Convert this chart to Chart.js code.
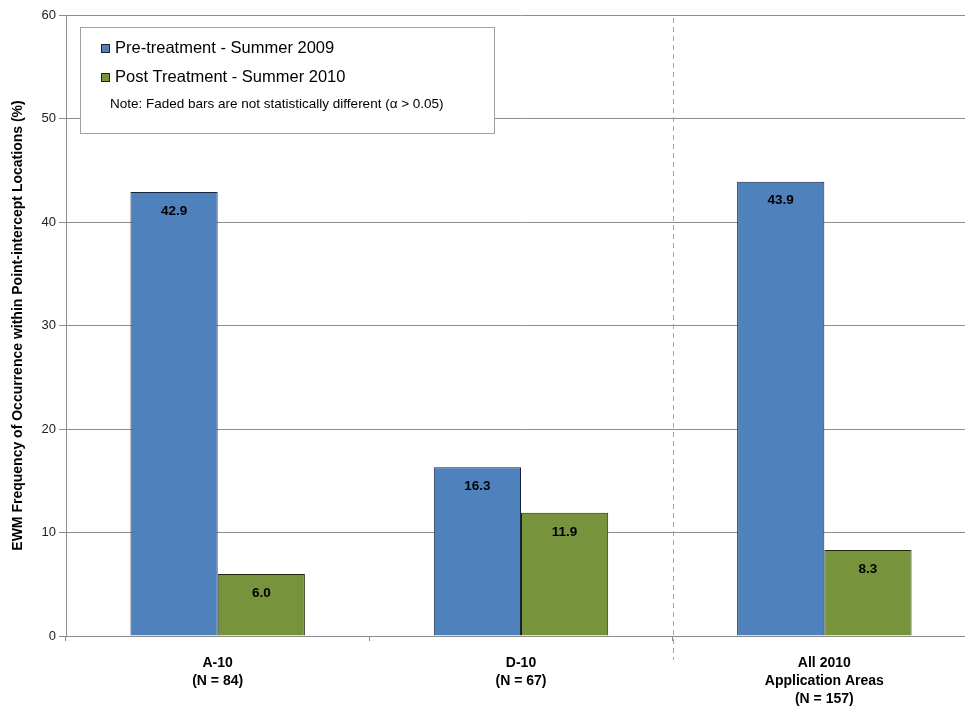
<!DOCTYPE html>
<html>
<head>
<meta charset="utf-8">
<script src="https://cdn.jsdelivr.net/npm/chart.js@4.4.0/dist/chart.umd.min.js"></script>
<style>
  html, body { margin: 0; padding: 0; background: #fff; overflow: hidden; }
  #wrap { width: 980px; height: 711px; }
</style>
</head>
<body>
<div id="wrap"><canvas id="grafico"></canvas></div>
<script>
// dados
const categorias = [
  ['A-10', '(N = 84)'],
  ['D-10', '(N = 67)'],
  ['All 2010', 'Application Areas', '(N = 157)']
];
const preTratamento = [42.9, 16.3, 43.9];
const posTratamento = [6.0, 11.9, 8.3];
const ticksY = [0, 10, 20, 30, 40, 50, 60];

const nomeSerie1 = 'Pre-treatment - Summer 2009';
const nomeSerie2 = 'Post Treatment - Summer 2010';
const nota = 'Note: Faded bars are not statistically different (\u03b1 > 0.05)';

const azul = '#4f81bd';
const verde = '#77933c';

// rótulos de valor dentro das barras
const rotulosBarras = {
  id: 'rotulosBarras',
  afterDatasetsDraw(chart) {
    const ctx = chart.ctx;
    ctx.save();
    ctx.font = 'bold 13.5px "Liberation Sans", Arial, sans-serif';
    ctx.fillStyle = '#000';
    ctx.textAlign = 'center';
    ctx.textBaseline = 'middle';
    chart.data.datasets.forEach((ds, i) => {
      chart.getDatasetMeta(i).data.forEach((bar, j) => {
        ctx.fillText(ds.data[j].toFixed(1), bar.x, bar.y + 19);
      });
    });
    ctx.restore();
  }
};

// linha tracejada entre D-10 e All + legenda em caixa
const extras = {
  id: 'extras',
  afterDraw(chart) {
    const ctx = chart.ctx;
    const x = chart.scales.x;
    const area = chart.chartArea;
    const xs = (x.getPixelForValue(1) + x.getPixelForValue(2)) / 2;
    ctx.save();
    ctx.strokeStyle = '#a6a6a6';
    ctx.lineWidth = 1;
    ctx.setLineDash([5, 4]);
    ctx.beginPath();
    ctx.moveTo(Math.round(xs) + 0.5, area.top + 3);
    ctx.lineTo(Math.round(xs) + 0.5, 660);
    ctx.stroke();
    ctx.setLineDash([]);

    // caixa da legenda
    ctx.fillStyle = '#fff';
    ctx.fillRect(80, 27, 414, 106);
    ctx.strokeStyle = '#a0a0a0';
    ctx.strokeRect(80.5, 27.5, 414, 106);

    const itens = [[nomeSerie1, azul, 48], [nomeSerie2, verde, 77]];
    ctx.font = '16.5px "Liberation Sans", Arial, sans-serif';
    ctx.textBaseline = 'middle';
    itens.forEach(([txt, cor, y]) => {
      ctx.fillStyle = cor;
      ctx.fillRect(101, y - 4, 9, 9);
      ctx.strokeStyle = '#222';
      ctx.strokeRect(101.5, y - 3.5, 8, 8);
      ctx.fillStyle = '#000';
      ctx.fillText(txt, 115, y);
    });
    ctx.font = '13.5px "Liberation Sans", Arial, sans-serif';
    ctx.fillText(nota, 110, 104);
    ctx.restore();
  }
};

const ctx = document.getElementById('grafico').getContext('2d');
new Chart(ctx, {
  type: 'bar',
  data: {
    labels: categorias,
    datasets: [
      {
        label: nomeSerie1,
        data: preTratamento,
        backgroundColor: azul,
        borderColor: '#17233a',
        borderWidth: 1,
        borderSkipped: 'bottom'
      },
      {
        label: nomeSerie2,
        data: posTratamento,
        backgroundColor: verde,
        borderColor: '#1c260e',
        borderWidth: 1,
        borderSkipped: 'bottom'
      }
    ]
  },
  options: {
    responsive: true,
    maintainAspectRatio: false,
    animation: false,
    categoryPercentage: 0.575,
    barPercentage: 1,
    layout: { padding: { top: 15, right: 4, left: 0, bottom: 0 } },
    plugins: {
      legend: { display: false },
      tooltip: { enabled: false }
    },
    scales: {
      y: {
        min: 0,
        max: 60,
        afterBuildTicks(s) { s.ticks = ticksY.map(v => ({ value: v })); },
        afterFit(s) { s.width = 66; },
        ticks: {
          color: '#222',
          font: { size: 13, family: '"Liberation Sans", Arial, sans-serif' },
          padding: 3
        },
        grid: { color: '#8c8c8c', tickLength: 7, tickColor: '#8c8c8c' },
        border: { display: true, color: '#8c8c8c' },
        title: {
          display: true,
          text: 'EWM Frequency of Occurrence within Point-intercept Locations (%)',
          color: '#000',
          font: { size: 14, weight: 'bold', family: '"Liberation Sans", Arial, sans-serif' },
          padding: { top: 10, bottom: 0 }
        }
      },
      x: {
        afterFit(s) { s.height = 75; },
        ticks: {
          color: '#000',
          font: { size: 14, weight: 'bold', family: '"Liberation Sans", Arial, sans-serif', lineHeight: '18px' },
          padding: 13,
          maxRotation: 0
        },
        grid: { drawOnChartArea: false, tickLength: 5, color: '#8c8c8c', offset: true },
        border: { display: true, color: '#8c8c8c' }
      }
    }
  },
  plugins: [rotulosBarras, extras]
});
</script>
</body>
</html>
